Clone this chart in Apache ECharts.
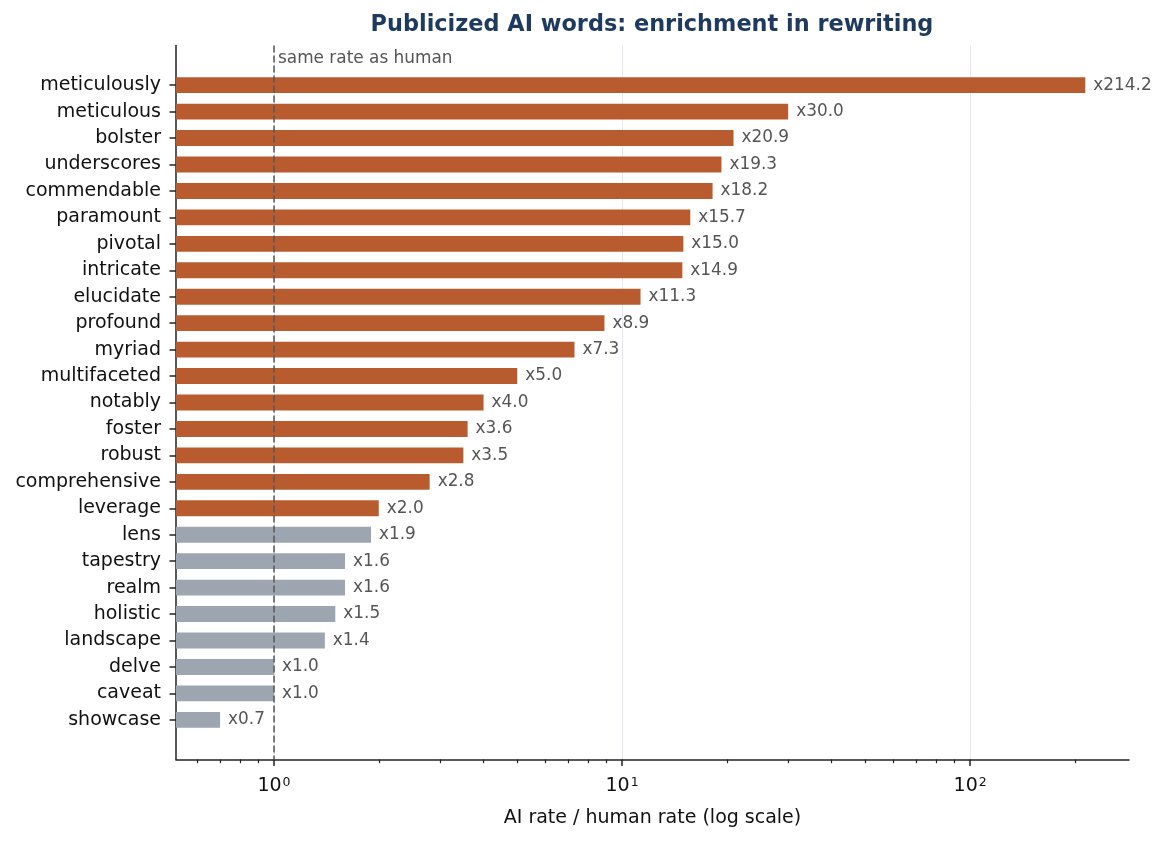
<!DOCTYPE html>
<html>
<head>
<meta charset="utf-8">
<script src="https://cdn.jsdelivr.net/npm/echarts@6/dist/echarts.min.js"></script>
<style>html,body{margin:0;padding:0;background:#fff;}#chart{width:1168px;height:842px;}</style>
</head>
<body>
<div id="chart"></div>
<script>
// ---- data ----
const WORDS = ['meticulously','meticulous','bolster','underscores','commendable','paramount','pivotal','intricate','elucidate','profound','myriad','multifaceted','notably','foster','robust','comprehensive','leverage','lens','tapestry','realm','holistic','landscape','delve','caveat','showcase'];
const RATIOS = [214.2,30.0,20.9,19.3,18.2,15.7,15.0,14.9,11.3,8.9,7.3,5.0,4.0,3.6,3.5,2.8,2.0,1.9,1.6,1.6,1.5,1.4,1.0,1.0,0.7];
const MAJOR_TICKS = [1, 10, 100];
const MAJOR_EXPONENTS = ['0', '1', '2'];
const MINOR_TICKS = [0.6,0.7,0.8,0.9,2,3,4,5,6,7,8,9,20,30,40,50,60,70,80,90,200];
const X_MIN = 0.523, X_MAX = 286;
const REFERENCE_RATE = 1;
const ENRICH_THRESHOLD = 2;

const FONT = 'DejaVu Sans';
const ORANGE = '#b85c30', GRAY = '#9ca5b0';

// padded categories (matplotlib-like margins)
const CATS = [' '].concat(WORDS, ['  ']);

const chart = echarts.init(document.getElementById('chart'), null, {renderer: 'canvas'});
const expMap = {};
MAJOR_TICKS.forEach((v, i) => { expMap[v] = MAJOR_EXPONENTS[i]; });

const xCommon = {
  type: 'log', logBase: 10, min: X_MIN, max: X_MAX, position: 'bottom'
};

const option = {
  backgroundColor: '#fff',
  animation: false,
  title: {
    text: 'Publicized AI words: enrichment in rewriting',
    left: 647, top: 9, textAlign: 'center',
    textStyle: {fontFamily: FONT, fontSize: 22.4, fontWeight: 'bold', color: '#1f3a5f'}
  },
  grid: {left: 176, right: 39, top: 45.5, bottom: 82.5, containLabel: false},
  xAxis: [
    Object.assign({}, xCommon, {
      name: 'AI rate / human rate (log scale)',
      nameLocation: 'middle', nameGap: 49,
      nameTextStyle: {fontFamily: FONT, fontSize: 19, color: '#111'},
      axisLine: {show: true, lineStyle: {color: '#222', width: 1.5}},
      axisTick: {show: true, customValues: MAJOR_TICKS, length: 6.5, lineStyle: {color: '#222', width: 1.5}},
      axisLabel: {show: true, customValues: MAJOR_TICKS, margin: 17,
        formatter: v => {
          const e = expMap[v] !== undefined ? expMap[v] : expMap[Math.round(v)];
          return e === undefined ? '' : '{b|10}{s|' + e + '}';
        },
        rich: {
          b: {fontFamily: FONT, fontSize: 19, color: '#111'},
          s: {fontFamily: FONT, fontSize: 12.5, color: '#111', padding: [0, 0, 7, 1]}
        },
        fontFamily: FONT, fontSize: 19, color: '#111'},
      splitLine: {show: true, lineStyle: {color: '#e6e6ec', width: 1}},
      minorTick: {show: false}, minorSplitLine: {show: false}
    }),
    Object.assign({}, xCommon, {
      axisLine: {show: false},
      axisTick: {show: true, customValues: MINOR_TICKS, length: 3.7, lineStyle: {color: '#222', width: 1.2}},
      axisLabel: {show: false},
      splitLine: {show: false}
    })
  ],
  yAxis: {
    type: 'category', data: CATS, inverse: true, boundaryGap: true,
    axisLine: {show: true, lineStyle: {color: '#222', width: 1.5}},
    axisTick: {show: true, alignWithLabel: true, length: 6.5,
      interval: (idx, val) => String(val).trim() !== '',
      lineStyle: {color: '#222', width: 1.5}},
    axisLabel: {show: true, interval: 0, margin: 15, fontFamily: FONT, fontSize: 19, color: '#111'},
    splitLine: {show: false}
  },
  series: [
    {
      type: 'custom',
      xAxisIndex: 0, yAxisIndex: 0,
      encode: {x: 0, y: 1},
      data: WORDS.map((w, i) => [RATIOS[i], w]),
      renderItem: (params, api) => {
        const v = api.value(0);
        const c = api.value(1);
        const end = api.coord([v, c]);
        const band = api.size([0, 1], [v, c])[1];
        const h = band * 0.6;
        const x0 = params.coordSys.x;
        return {
          type: 'rect',
          shape: {x: x0, y: end[1] - h / 2, width: end[0] - x0, height: h},
          style: {fill: v >= ENRICH_THRESHOLD ? ORANGE : GRAY},
          textContent: {
            style: {text: 'x' + v.toFixed(1), fill: '#555', fontSize: 16.9, fontFamily: FONT}
          },
          textConfig: {position: 'right', distance: 8}
        };
      },
      z: 2
    },
    {
      type: 'line', xAxisIndex: 0, yAxisIndex: 0, data: [],
      silent: true,
      markLine: {
        silent: true, symbol: ['none', 'none'], animation: false,
        lineStyle: {type: [7, 3], color: '#555', width: 1.5},
        label: {show: false},
        data: [{xAxis: REFERENCE_RATE}]
      },
      markPoint: {
        silent: true, symbol: 'circle', symbolSize: 0,
        label: {show: true, position: 'right', distance: 4, formatter: 'same rate as human',
          fontFamily: FONT, fontSize: 16.9, color: '#555', offset: [0, 0]},
        data: [{coord: [REFERENCE_RATE, 0]}]
      },
      z: 3
    }
  ]
};
chart.setOption(option);
</script>
</body>
</html>
